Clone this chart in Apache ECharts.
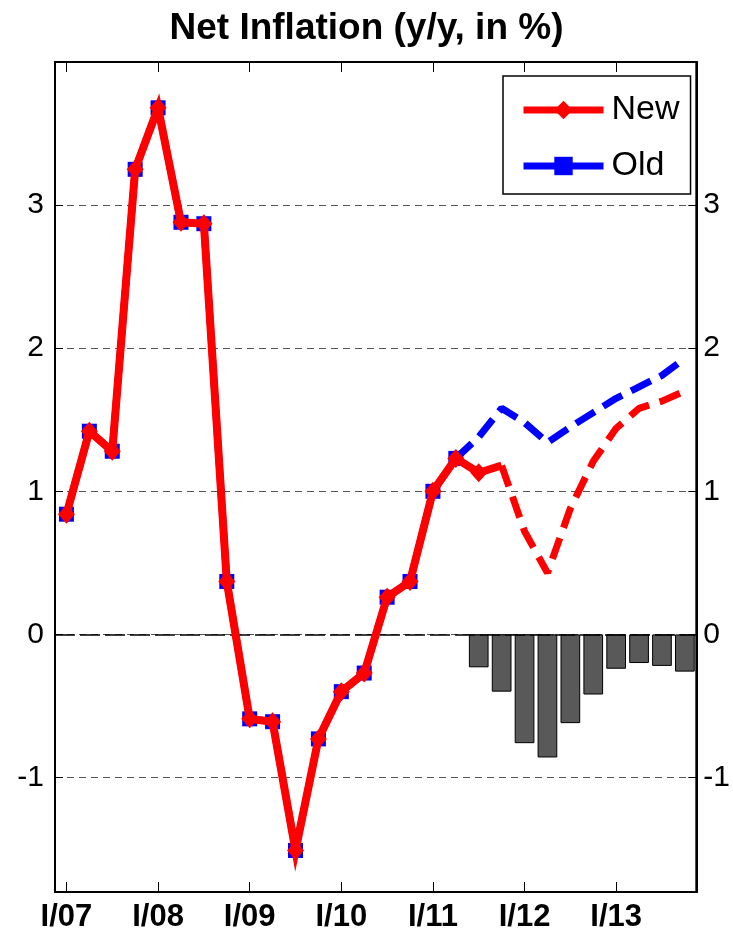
<!DOCTYPE html>
<html>
<head>
<meta charset="utf-8">
<script src="https://cdn.jsdelivr.net/npm/echarts@6/dist/echarts.min.js"></script>
<style>
  html, body { margin: 0; padding: 0; background: #fff; }
  #chart { width: 733px; height: 939px; }
</style>
</head>
<body>
<div id="chart"></div>
<script>
// Net inflation, quarterly I/07 .. IV/13. New vs old forecast, bars = difference.
var quarters = [];
["07","08","09","10","11","12","13"].forEach(function (y) {
  ["I","II","III","IV"].forEach(function (q) { quarters.push(q + "/" + y); });
});

// observed values (identical in both vintages), I/07 .. II/11
var observed = [0.84, 1.42, 1.28, 3.25, 3.68, 2.88, 2.87, 0.37, -0.59, -0.61,
  -1.51, -0.73, -0.40, -0.27, 0.26, 0.37, 1.00, 1.23];
// new vintage: III/11 observed, IV/11 start of forecast
var newTail = [1.13, 1.18];
var newForecast = [1.18, 0.72, 0.43, 0.88, 1.21, 1.44, 1.58, 1.63, 1.70]; // IV/11 .. IV/13
// old vintage forecast from II/11
var oldForecast = [1.23, 1.38, 1.58, 1.48, 1.34, 1.45, 1.55, 1.65, 1.73, 1.81, 1.93]; // II/11 .. IV/13
// difference (new - old), III/11 .. IV/13
var diffBars = [-0.23, -0.40, -0.76, -0.86, -0.62, -0.42, -0.24, -0.20, -0.22, -0.26];
var yLabels = [-1, 0, 1, 2, 3];

function place(start, vals) {
  var out = quarters.map(function () { return null; });
  vals.forEach(function (v, i) { out[start + i] = v; });
  return out;
}

var newSolid = place(0, observed.concat(newTail)).map(function (v, i) {
  if (v == null) return null;
  return i === 19 ? { value: v, symbol: "none" } : v;
});
var oldSolid = place(0, observed);
var newDash = place(19, newForecast);
var oldDash = place(17, oldForecast);
var bars = place(18, diffBars);

var FONT = "Liberation Sans, Arial, sans-serif";
function yFmt(v) { return yLabels.indexOf(v) >= 0 ? String(v) : ""; }

var c = echarts.init(document.getElementById("chart"));
c.setOption({
  animation: false,
  title: {
    text: "Net Inflation (y/y, in %)", left: "center", top: 5,
    textStyle: { fontFamily: FONT, fontSize: 37, fontWeight: "bold", color: "#000" }
  },
  grid: { left: 55, right: 35, top: 62, bottom: 47, show: true, borderColor: "#000", borderWidth: 2, backgroundColor: "#fff" },
  legend: {
    data: [{ name: "New" }, { name: "Old" }],
    orient: "vertical", left: 503, top: 76,
    backgroundColor: "#fff", borderColor: "#000", borderWidth: 1.5, borderRadius: 0,
    padding: [14, 11, 8, 17], itemGap: 16, itemWidth: 80, itemHeight: 23,
    lineStyle: { width: 7 },
    textStyle: { fontFamily: FONT, fontSize: 34, color: "#000", lineHeight: 40, padding: [0, 0, 0, 3] }
  },
  xAxis: [{
    type: "category", data: quarters, boundaryGap: true,
    axisLine: { show: true, onZero: false, lineStyle: { color: "#000", width: 2 } },
    axisTick: { show: true, inside: true, alignWithLabel: true, length: 10, interval: 3, lineStyle: { color: "#000" } },
    axisLabel: { interval: 3, margin: 10, fontFamily: FONT, fontSize: 31, fontWeight: "bold", color: "#000" },
    splitLine: { show: false }
  }, {
    type: "category", data: quarters, position: "top", boundaryGap: true,
    axisLine: { show: true, onZero: false, lineStyle: { color: "#000", width: 2 } },
    axisTick: { show: true, inside: true, alignWithLabel: true, length: 10, interval: 3, lineStyle: { color: "#000" } },
    axisLabel: { show: false }
  }],
  yAxis: [{
    type: "value", min: -1.8, max: 4, position: "left",
    axisLine: { show: true, lineStyle: { color: "#000", width: 2 } },
    axisTick: { show: true, inside: true, length: 8, lineStyle: { color: "#000" } },
    axisLabel: { margin: 11, fontFamily: FONT, fontSize: 30, color: "#000", formatter: yFmt },
    splitLine: { show: true, lineStyle: { color: "#555", type: [7, 5], width: 1 } }
  }, {
    type: "value", min: -1.8, max: 4, position: "right",
    axisLine: { show: true, lineStyle: { color: "#000", width: 2 } },
    axisTick: { show: true, inside: true, length: 8, lineStyle: { color: "#000" } },
    axisLabel: { margin: 7, fontFamily: FONT, fontSize: 30, color: "#000", formatter: yFmt },
    splitLine: { show: false }
  }],
  series: [{
    name: "Difference", type: "bar", data: bars, barWidth: "86%",
    itemStyle: { color: "#595959", borderColor: "#000", borderWidth: 1 },
    markLine: {
      silent: true, symbol: "none", label: { show: false },
      lineStyle: { color: "#000", type: [20, 5], width: 1.5 },
      data: [{ yAxis: 0 }]
    },
    z: 1
  }, {
    name: "Old", type: "line", data: oldSolid,
    symbol: "rect", symbolSize: 15, showAllSymbol: true,
    lineStyle: { color: "#0000ff", width: 7 }, itemStyle: { color: "#0000ff" },
    z: 2
  }, {
    name: "Old forecast", type: "line", data: oldDash, symbol: "none",
    lineStyle: { color: "#0000ff", width: 7, type: [22, 10] },
    z: 3
  }, {
    name: "New forecast", type: "line", data: newDash, symbol: "none",
    lineStyle: { color: "#ff0000", width: 7, type: [22, 11] },
    z: 4
  }, {
    name: "New", type: "line", data: newSolid,
    symbol: "diamond", symbolSize: [17, 19], showAllSymbol: true,
    lineStyle: { color: "#ff0000", width: 8, join: "miter", miterLimit: 8 }, itemStyle: { color: "#ff0000" },
    z: 5
  }]
});
</script>
</body>
</html>
